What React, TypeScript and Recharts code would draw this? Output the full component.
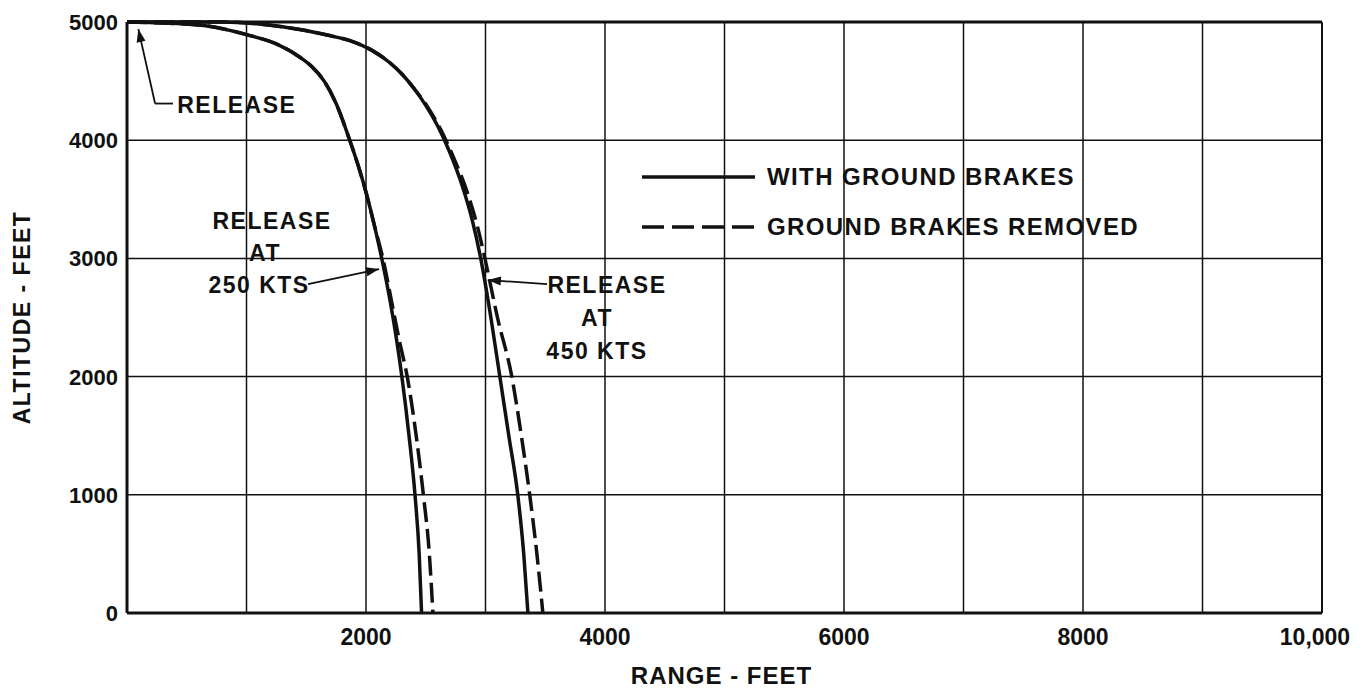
import React from "react";
import {
  CartesianGrid,
  Legend,
  Line,
  LineChart,
  ReferenceDot,
  ReferenceLine,
  XAxis,
  YAxis,
} from "recharts";

// release at 250 kts, with ground brakes
const range250Brakes = [0, 600, 1030, 1250, 1450, 1550, 1650, 1750, 1850, 1930, 2000, 2070, 2140, 2200, 2250, 2300, 2360, 2410, 2445, 2465];
const alt250Brakes = [5000, 4975, 4885, 4815, 4700, 4620, 4500, 4310, 4040, 3800, 3560, 3280, 2960, 2650, 2350, 2000, 1500, 1000, 500, 0];
// release at 250 kts, ground brakes removed
const range250NoBrakes = [0, 600, 1030, 1250, 1450, 1550, 1650, 1750, 1850, 1930, 2000, 2070, 2150, 2215, 2280, 2345, 2420, 2480, 2530, 2560];
const alt250NoBrakes = [5000, 4975, 4885, 4815, 4700, 4620, 4500, 4310, 4040, 3800, 3560, 3280, 2960, 2630, 2300, 2000, 1500, 1000, 500, 0];
// release at 450 kts, with ground brakes
const range450Brakes = [0, 800, 1300, 1675, 1900, 2050, 2200, 2300, 2400, 2500, 2600, 2700, 2810, 2890, 2960, 3045, 3120, 3195, 3270, 3320, 3355];
const alt450Brakes = [5000, 5000, 4960, 4890, 4830, 4760, 4655, 4560, 4440, 4295, 4120, 3900, 3600, 3320, 3000, 2500, 2000, 1500, 1000, 500, 0];
// release at 450 kts, ground brakes removed
const range450NoBrakes = [0, 800, 1300, 1675, 1900, 2050, 2200, 2300, 2400, 2510, 2620, 2730, 2850, 2930, 2995, 3100, 3220, 3300, 3370, 3430, 3480];
const alt450NoBrakes = [5000, 5000, 4960, 4890, 4830, 4760, 4655, 4560, 4440, 4290, 4100, 3860, 3550, 3280, 3000, 2500, 2000, 1500, 1000, 500, 0];

const xTicks = [0, 1000, 2000, 3000, 4000, 5000, 6000, 7000, 8000, 9000, 10000];
const xTickLabels = ["", "", "2000", "", "4000", "", "6000", "", "8000", "", "10,000"];
const yTicks = [0, 1000, 2000, 3000, 4000, 5000];
const yTickLabels = ["0", "1000", "2000", "3000", "4000", "5000"];

const seriesNames = ["WITH GROUND BRAKES", "GROUND BRAKES REMOVED"];

const zip = (xs: number[], ys: number[]) => xs.map((x, i) => ({ range: x, alt: ys[i] }));

const INK = "#111";
const FONT = "'Liberation Sans', Arial, sans-serif";
const DASH = "20 7";

const XTick = ({ x, y, payload }: any) => {
  const label = xTickLabels[xTicks.indexOf(payload.value)];
  return (
    <text
      x={x + (payload.value === 10000 ? -7 : 0)}
      y={y + 32}
      textAnchor="middle"
      fontFamily={FONT}
      fontSize={23}
      fontWeight="bold"
      fill={INK}
    >
      {label}
    </text>
  );
};

const YTick = ({ x, y, payload }: any) => {
  const label = yTickLabels[yTicks.indexOf(payload.value)];
  return (
    <text x={x - 9} y={y} dy="0.36em" textAnchor="end" fontFamily={FONT} fontSize={22} fontWeight="bold" fill={INK}>
      {label}
    </text>
  );
};

const YTitle = ({ viewBox }: any) => {
  const cx = viewBox.x + 14;
  const cy = viewBox.y + viewBox.height / 2;
  return (
    <text
      x={cx}
      y={cy}
      dy="0.36em"
      transform={`rotate(-90 ${cx} ${cy})`}
      textAnchor="middle"
      fontFamily={FONT}
      fontSize={23}
      fontWeight="bold"
      letterSpacing={1.5}
      fill={INK}
    >
      ALTITUDE - FEET
    </text>
  );
};

const XTitle = ({ viewBox }: any) => {
  const cx = viewBox.x + viewBox.width / 2;
  return (
    <text x={cx - 3} y={viewBox.y + 71} textAnchor="middle" fontFamily={FONT} fontSize={24} fontWeight="bold" letterSpacing={1} fill={INK}>
      RANGE - FEET
    </text>
  );
};

const LegendBox = () => (
  <div style={{ display: "flex", flexDirection: "column" }}>
    {seriesNames.map((name, i) => (
      <div key={name} style={{ display: "flex", alignItems: "center", height: 50 }}>
        <svg width={113} height={10}>
          <line x1={0} y1={5} x2={113} y2={5} stroke={INK} strokeWidth={3.5} strokeDasharray={i === 1 ? "22 8" : undefined} />
        </svg>
        <span
          style={{
            marginLeft: 12,
            fontFamily: FONT,
            fontSize: 24,
            fontWeight: "bold",
            letterSpacing: 1.4,
            color: INK,
            whiteSpace: "nowrap",
          }}
        >
          {name}
        </span>
      </div>
    ))}
  </div>
);

const textStyle = { fontFamily: FONT, fontSize: 23, fontWeight: "bold", fill: INK, letterSpacing: 1.5 } as const;

const Arrow = (angle: number) => (props: any) => {
  const { cx, cy } = props;
  return (
    <polygon
      points="0,0 -13,-4.5 -13,4.5"
      transform={`translate(${cx} ${cy}) rotate(${angle})`}
      fill={INK}
    />
  );
};

const TextBlock = (lines: string[], dxs: number[], step: number) => (props: any) => {
  const { cx, cy } = props;
  const top = -((lines.length - 1) * step) / 2;
  return (
    <g>
      {lines.map((l, i) => (
        <text key={i} x={cx + dxs[i]} y={cy + top + i * step} dy="0.36em" textAnchor="middle" {...textStyle}>
          {l}
        </text>
      ))}
    </g>
  );
};

const ReleaseText = (props: any) => (
  <text x={props.cx} y={props.cy} dy="0.36em" textAnchor="start" {...textStyle}>
    RELEASE
  </text>
);

export default function App() {
  return (
    <LineChart width={1346} height={681} margin={{ top: 14, right: 32, left: 0, bottom: 36 }}>
      <CartesianGrid stroke={INK} strokeWidth={1.5} horizontalValues={yTicks} verticalValues={xTicks} />
      <XAxis
        type="number"
        dataKey="range"
        domain={[0, 10000]}
        ticks={xTicks}
        interval={0}
        tick={<XTick />}
        tickSize={0}
        tickMargin={0}
        height={40}
        axisLine={{ stroke: INK, strokeWidth: 3 }}
        tickLine={false}
        label={<XTitle />}
      />
      <YAxis
        type="number"
        dataKey="alt"
        domain={[0, 5000]}
        ticks={yTicks}
        interval={0}
        tick={<YTick />}
        tickSize={0}
        tickMargin={0}
        width={119}
        axisLine={{ stroke: INK, strokeWidth: 3 }}
        tickLine={false}
        label={<YTitle />}
      />
      <ReferenceLine y={5000} stroke={INK} strokeWidth={3} />
      <ReferenceLine x={10000} stroke={INK} strokeWidth={2} />
      <Legend
        layout="horizontal"
        verticalAlign="middle"
        align="center"
        content={<LegendBox />}
        wrapperStyle={{ left: 634, top: 144, width: 560 }}
      />
      <Line
        data={zip(range250Brakes, alt250Brakes)}
        dataKey="alt"
        name={seriesNames[0]}
        type="monotone"
        stroke={INK}
        strokeWidth={3.5}
        dot={false}
        isAnimationActive={false}
      />
      <Line
        data={zip(range250NoBrakes, alt250NoBrakes)}
        dataKey="alt"
        name={seriesNames[1]}
        type="monotone"
        stroke={INK}
        strokeWidth={3.5}
        strokeDasharray={DASH}
        dot={false}
        isAnimationActive={false}
      />
      <Line
        data={zip(range450Brakes, alt450Brakes)}
        dataKey="alt"
        name={seriesNames[0]}
        type="monotone"
        stroke={INK}
        strokeWidth={3.5}
        dot={false}
        isAnimationActive={false}
      />
      <Line
        data={zip(range450NoBrakes, alt450NoBrakes)}
        dataKey="alt"
        name={seriesNames[1]}
        type="monotone"
        stroke={INK}
        strokeWidth={3.5}
        strokeDasharray={DASH}
        dot={false}
        isAnimationActive={false}
      />

      {/* RELEASE leader at the release point */}
      <ReferenceLine segment={[{ x: 95, y: 4940 }, { x: 235, y: 4310 }]} stroke={INK} strokeWidth={1.8} />
      <ReferenceLine segment={[{ x: 235, y: 4310 }, { x: 385, y: 4310 }]} stroke={INK} strokeWidth={1.8} />
      <ReferenceDot x={95} y={4940} r={0} shape={Arrow(-102)} />
      <ReferenceDot x={420} y={4300} r={0} shape={ReleaseText} />

      {/* release at 250 kts */}
      <ReferenceLine segment={[{ x: 1515, y: 2783 }, { x: 2110, y: 2910 }]} stroke={INK} strokeWidth={1.8} />
      <ReferenceDot x={2110} y={2910} r={0} shape={Arrow(-12)} />
      <ReferenceDot x={1155} y={3046} r={0} shape={TextBlock(["RELEASE", "AT", "250 KTS"], [7, 0, -6], 32)} />

      {/* release at 450 kts */}
      <ReferenceLine segment={[{ x: 3515, y: 2783 }, { x: 3020, y: 2817 }]} stroke={INK} strokeWidth={1.8} />
      <ReferenceDot x={3020} y={2817} r={0} shape={Arrow(184)} />
      <ReferenceDot x={3958} y={2496} r={0} shape={TextBlock(["RELEASE", "AT", "450 KTS"], [7, -3, -3], 33)} />
    </LineChart>
  );
}
